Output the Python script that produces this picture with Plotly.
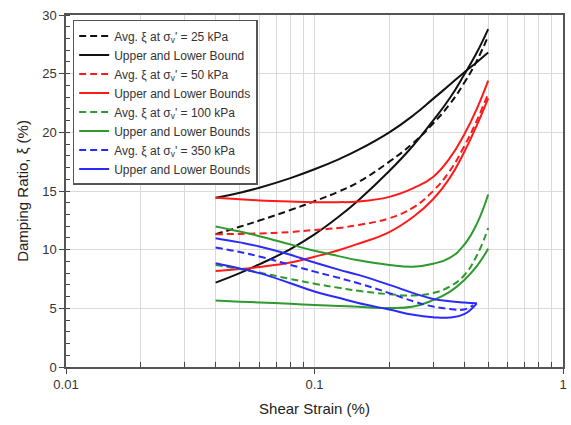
import plotly.graph_objects as go

# ---- data ----
strain = [0.04, 0.05, 0.06, 0.08, 0.1, 0.125, 0.15, 0.2, 0.25, 0.3, 0.35, 0.4, 0.45, 0.5]
avg25 = [11.32, 11.95, 12.48, 13.38, 14.13, 14.95, 15.75, 17.5, 19.1, 20.75, 22.4, 24.2, 26.1, 28.2]
up25 = [14.42, 14.85, 15.28, 16.1, 16.85, 17.7, 18.5, 20.0, 21.45, 22.85, 24.05, 25.1, 25.98, 26.8]
lo25 = [7.19, 8.0, 8.75, 10.05, 11.3, 12.8, 14.2, 16.7, 18.9, 21.0, 22.9, 24.9, 26.8, 28.8]

avg50 = [11.32, 11.34, 11.38, 11.5, 11.68, 11.85, 12.1, 12.68, 13.6, 15.0, 16.7, 18.8, 21.0, 23.3]
up50 = [14.42, 14.3, 14.2, 14.1, 14.05, 14.05, 14.1, 14.5, 15.25, 16.2, 17.8, 19.8, 22.0, 24.4]
lo50 = [8.19, 8.35, 8.52, 8.9, 9.4, 9.95, 10.5, 11.5, 12.8, 14.3, 16.1, 18.3, 20.6, 22.9]

avg100 = [8.7, 8.35, 8.05, 7.5, 7.1, 6.75, 6.5, 6.2, 6.1, 6.3, 6.85, 7.8, 9.5, 11.84]
up100 = [11.98, 11.55, 11.15, 10.45, 9.9, 9.45, 9.1, 8.7, 8.55, 8.8, 9.3, 10.4, 12.2, 14.7]
lo100 = [5.66, 5.57, 5.5, 5.38, 5.28, 5.2, 5.13, 5.02, 5.15, 5.7, 6.4, 7.4, 8.6, 10.07]

strain350a = [0.04, 0.05, 0.06, 0.08, 0.1, 0.125, 0.15, 0.2, 0.25, 0.3, 0.35, 0.4, 0.435]
avg350 = [10.19, 9.8, 9.42, 8.7, 8.13, 7.6, 7.14, 6.3, 5.6, 5.15, 4.95, 4.9, 5.28]
strain350 = [0.04, 0.05, 0.06, 0.08, 0.1, 0.125, 0.15, 0.2, 0.25, 0.3, 0.35, 0.4, 0.45]
up350 = [10.98, 10.62, 10.27, 9.56, 8.9, 8.3, 7.85, 7.0, 6.3, 5.8, 5.6, 5.5, 5.43]
lo350 = [8.85, 8.4, 8.0, 7.14, 6.43, 5.9, 5.45, 4.9, 4.45, 4.25, 4.22, 4.5, 5.43]

names_avg = ["Avg. ξ at σ<sub>v</sub>' = 25 kPa", "Avg. ξ at σ<sub>v</sub>' = 50 kPa",
             "Avg. ξ at σ<sub>v</sub>' = 100 kPa", "Avg. ξ at σ<sub>v</sub>' = 350 kPa"]
names_bnd = ["Upper and Lower Bound", "Upper and Lower Bounds",
             "Upper and Lower Bounds", "Upper and Lower Bounds"]

groups = [
    (strain, avg25, strain, up25, lo25, "#111111"),
    (strain, avg50, strain, up50, lo50, "#ff1a1a"),
    (strain, avg100, strain, up100, lo100, "#2e9a2e"),
    (strain350a, avg350, strain350, up350, lo350, "#2a2aff"),
]

fig = go.Figure()
LW = 2.0
SM = 1.3
for i, (xa, ya, xb, yu, yl, c) in enumerate(groups):
    fig.add_trace(go.Scatter(x=xa, y=ya, mode="lines", name=names_avg[i],
                             line=dict(color=c, width=LW, dash="7px,4px",
                                       shape="spline", smoothing=SM)))
    fig.add_trace(go.Scatter(x=xb, y=yu, mode="lines", name=names_bnd[i],
                             line=dict(color=c, width=LW, shape="spline", smoothing=SM)))
    fig.add_trace(go.Scatter(x=xb, y=yl, mode="lines", showlegend=False,
                             line=dict(color=c, width=LW, shape="spline", smoothing=SM)))

font_family = "Arial, Liberation Sans, sans-serif"
minor_x = [0.02, 0.03, 0.04, 0.05, 0.06, 0.07, 0.08, 0.09,
           0.2, 0.3, 0.4, 0.5, 0.6, 0.7, 0.8, 0.9]

fig.update_layout(
    width=571, height=425,
    margin=dict(l=66, r=4, t=15, b=58),
    paper_bgcolor="white", plot_bgcolor="white",
    font=dict(family=font_family, size=13, color="#333333"),
    showlegend=True,
    legend=dict(x=0.0134, y=0.986, xanchor="left", yanchor="top",
                bgcolor="white", bordercolor="#555555", borderwidth=1.5,
                font=dict(size=12, color="#333333"), tracegroupgap=0),
    xaxis=dict(type="log", range=[-2, 0],
               tickvals=[0.01, 0.1, 1], ticktext=["0.01", "0.1", "1"],
               ticks="outside", ticklen=5, tickcolor="#444444",
               showline=True, linecolor="#555555", linewidth=1.5, mirror=True,
               showgrid=True, gridcolor="#dadada", gridwidth=1,
               minor=dict(tickvals=minor_x, ticks="inside", ticklen=5,
                          tickcolor="#444444", showgrid=True,
                          gridcolor="#dadada", gridwidth=1),
               title=dict(text="Shear Strain (%)", font=dict(size=15, color="#222222"),
                          standoff=12),
               zeroline=False),
    yaxis=dict(range=[0, 30], tickvals=[0, 5, 10, 15, 20, 25, 30],
               ticks="outside", ticklen=5, tickcolor="#444444",
               showline=True, linecolor="#555555", linewidth=1.5, mirror=True,
               showgrid=True, gridcolor="#dadada", gridwidth=1,
               minor=dict(dtick=1, ticks="inside", ticklen=4,
                          tickcolor="#444444", showgrid=False),
               title=dict(text="Damping Ratio, ξ (%)", font=dict(size=15, color="#222222"),
                          standoff=10),
               zeroline=False),
)

fig.write_html("out.html")
